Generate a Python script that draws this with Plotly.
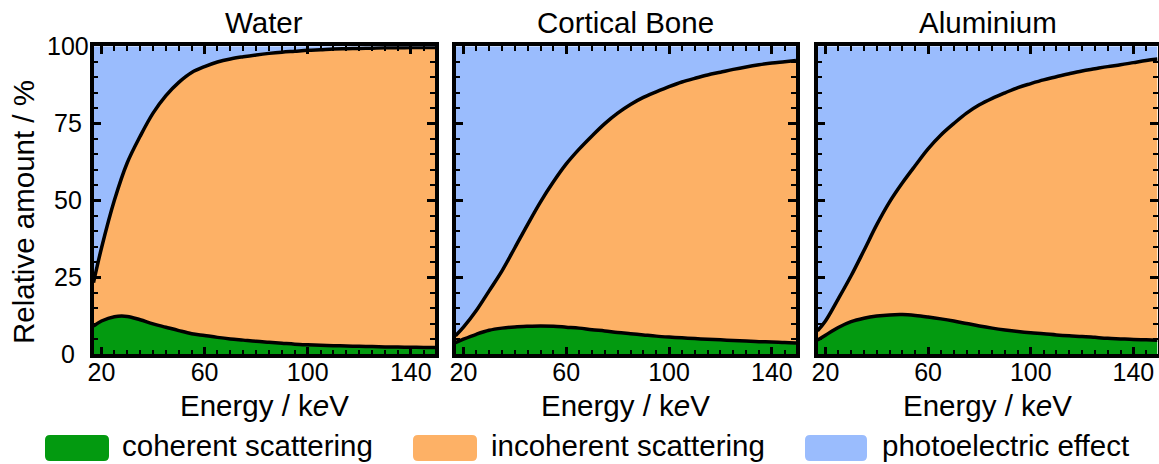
import numpy as np
import plotly.graph_objects as go

# Photon energy grid (keV)
energy_kev = [16.9, 20, 25, 30, 35, 40, 45, 50, 55, 60, 65, 70, 75, 80, 85, 90,
              95, 100, 105, 110, 115, 120, 125, 130, 135, 140, 145, 149.4]

# Relative contribution (%) of each interaction to total attenuation
water_coherent = [9.2, 10.8, 12.2, 12.3, 11.2, 9.9, 8.8, 7.7, 6.7, 6.1, 5.5, 5.0, 4.6, 4.2,
                  3.9, 3.6, 3.3, 3.1, 2.95, 2.8, 2.7, 2.6, 2.5, 2.4, 2.35, 2.3, 2.2, 2.2]
water_photoelectric = [76.7, 65.5, 50.0, 37.8, 29.2, 21.7, 16.0, 11.7, 8.5, 6.6, 5.1, 4.1, 3.4, 2.8,
                       2.3, 1.9, 1.6, 1.3, 1.1, 0.9, 0.8, 0.7, 0.6, 0.5, 0.5, 0.4, 0.4, 0.4]

bone_coherent = [3.8, 4.9, 6.5, 7.8, 8.5, 8.9, 9.1, 9.2, 9.1, 8.8, 8.5, 8.0, 7.6, 7.1,
                 6.7, 6.3, 5.9, 5.6, 5.35, 5.1, 4.9, 4.7, 4.5, 4.3, 4.1, 4.0, 3.8, 3.7]
bone_photoelectric = [94.0, 91.2, 85.8, 79.4, 72.9, 65.4, 57.8, 50.5, 44.0, 38.2, 33.4, 29.1, 25.1, 21.7,
                      18.9, 16.6, 14.8, 13.1, 11.6, 10.4, 9.3, 8.4, 7.5, 6.7, 6.0, 5.4, 5.0, 4.6]

aluminium_coherent = [4.6, 6.2, 8.7, 10.6, 11.7, 12.4, 12.8, 12.9, 12.6, 12.1, 11.5, 10.8, 10.0, 9.2,
                      8.5, 7.9, 7.4, 7.0, 6.7, 6.3, 6.0, 5.8, 5.5, 5.2, 5.0, 4.8, 4.7, 4.6]
aluminium_photoelectric = [92.4, 89.2, 82.0, 74.5, 66.3, 57.9, 50.5, 44.3, 38.7, 33.3, 28.8, 25.1, 21.7, 19.0,
                           16.9, 15.1, 13.4, 12.1, 10.9, 9.9, 8.9, 8.0, 7.3, 6.6, 6.0, 5.3, 4.6, 4.1]

materials = ["Water", "Cortical Bone", "Aluminium"]
coherent_sets = [water_coherent, bone_coherent, aluminium_coherent]
photo_sets = [water_photoelectric, bone_photoelectric, aluminium_photoelectric]

legend_labels = ["coherent scattering", "incoherent scattering", "photoelectric effect"]
x_tick_values = [20, 60, 100, 140]
y_tick_values = [0, 25, 50, 75, 100]
x_title = "Energy / k<i>e</i>V"
y_title = "Relative amount / %"

GREEN = "#039A10"
ORANGE = "#FDB166"
BLUE = "#9ABCFD"
FONT = "Liberation Sans, Arial, Helvetica, sans-serif"
TITLE_SIZE = 29.5
TICK_SIZE = 25

W, H = 1159, 464
# panel extents in pixels
panel_px = [(93.5, 435.0), (455.5, 796.0), (817.5, 1157.5)]
y_top_px, y_bot_px = 46.3, 354.3


def px_x(v):
    return v / W


def px_y(v):
    return 1 - v / H


fig = go.Figure()

for i, (name, coh, pho) in enumerate(zip(materials, coherent_sets, photo_sets)):
    coh = np.array(coh, dtype=float)
    pho = np.array(pho, dtype=float)
    incoh = 100.0 - coh - pho
    xa = "x" if i == 0 else f"x{i + 1}"
    ya = "y" if i == 0 else f"y{i + 1}"
    c1 = coh
    c2 = coh + incoh
    c3 = coh + incoh + pho
    fig.add_trace(go.Scatter(x=energy_kev, y=c1, xaxis=xa, yaxis=ya, mode="lines",
                             line=dict(color="black", width=3.5, shape="spline"),
                             fill="tozeroy", fillcolor=GREEN, showlegend=False,
                             hoverinfo="skip"))
    fig.add_trace(go.Scatter(x=energy_kev, y=c2, xaxis=xa, yaxis=ya, mode="lines",
                             line=dict(color="black", width=3.5, shape="spline"),
                             fill="tonexty", fillcolor=ORANGE, showlegend=False,
                             hoverinfo="skip"))
    fig.add_trace(go.Scatter(x=energy_kev, y=c3, xaxis=xa, yaxis=ya, mode="lines",
                             line=dict(color=BLUE, width=0, shape="spline"),
                             fill="tonexty", fillcolor=BLUE, showlegend=False,
                             hoverinfo="skip"))

axis_common = dict(showline=True, linewidth=3.5, linecolor="black", mirror="ticks",
                   ticks="inside", ticklen=8, tickwidth=2.5, tickcolor="black",
                   showgrid=False, zeroline=False, automargin=False,
                   tickfont=dict(family=FONT, size=TICK_SIZE, color="black"))

layout = dict(width=W, height=H, margin=dict(l=0, r=0, t=0, b=0, autoexpand=False),
              paper_bgcolor="white", plot_bgcolor="white", showlegend=False,
              font=dict(family=FONT, color="black"))

y_tick_text = []
for v in y_tick_values:
    s = str(v)
    pad = {1: "\u2007", 2: "\u2008", 3: ""}[len(s)]
    y_tick_text.append(s + pad)

for i in range(3):
    xk = "xaxis" if i == 0 else f"xaxis{i + 1}"
    yk = "yaxis" if i == 0 else f"yaxis{i + 1}"
    x0, x1 = panel_px[i]
    layout[xk] = dict(axis_common, domain=[px_x(x0), px_x(x1)], range=[16.9, 149.4],
                      tickvals=x_tick_values, ticklabelstandoff=-7,
                      anchor="y" if i == 0 else f"y{i + 1}",
                      minor=dict(dtick=5, tick0=0, ticks="inside", ticklen=5,
                                 tickwidth=2, tickcolor="black", showgrid=False))
    layout[yk] = dict(axis_common, domain=[px_y(y_bot_px), px_y(y_top_px)], range=[0, 100],
                      tickvals=y_tick_values, ticktext=y_tick_text,
                      showticklabels=(i == 0), ticklabelstandoff=-4,
                      anchor="x" if i == 0 else f"x{i + 1}",
                      minor=dict(dtick=5, tick0=0, ticks="inside", ticklen=5,
                                 tickwidth=2, tickcolor="black", showgrid=False))

annotations = []
for i, name in enumerate(materials):
    x0, x1 = panel_px[i]
    cx = (x0 + x1) / 2
    annotations.append(dict(text=name, x=px_x(cx), y=px_y(23), xref="paper", yref="paper",
                            xanchor="center", yanchor="middle", showarrow=False,
                            font=dict(family=FONT, size=TITLE_SIZE, color="black")))
    annotations.append(dict(text=x_title, x=px_x(cx), y=px_y(405), xref="paper", yref="paper",
                            xanchor="center", yanchor="middle", showarrow=False,
                            font=dict(family=FONT, size=TITLE_SIZE, color="black")))

annotations.append(dict(text=y_title, x=px_x(23), y=px_y(212), xref="paper", yref="paper",
                        xanchor="center", yanchor="middle", showarrow=False, textangle=-90,
                        font=dict(family=FONT, size=TITLE_SIZE, color="black")))

# legend: rounded swatches plus labels
swatch_px = [(45, 109), (413, 477), (805, 867)]
text_left_px = [120, 489, 880]
swatch_colors = [GREEN, ORANGE, BLUE]
sw_top, sw_bot = 435, 461
shapes = []


def rounded_rect(xa, xb, ya, yb, r=5):
    rx, ry = r / W, r / H
    X0, X1 = px_x(xa), px_x(xb)
    Yt, Yb = px_y(ya), px_y(yb)
    return (f"M {X0 + rx},{Yt} L {X1 - rx},{Yt} Q {X1},{Yt} {X1},{Yt - ry} "
            f"L {X1},{Yb + ry} Q {X1},{Yb} {X1 - rx},{Yb} "
            f"L {X0 + rx},{Yb} Q {X0},{Yb} {X0},{Yb + ry} "
            f"L {X0},{Yt - ry} Q {X0},{Yt} {X0 + rx},{Yt} Z")


for (xa, xb), tl, col, lab in zip(swatch_px, text_left_px, swatch_colors, legend_labels):
    shapes.append(dict(type="path", xref="paper", yref="paper",
                       path=rounded_rect(xa, xb, sw_top, sw_bot),
                       fillcolor=col, line=dict(width=0)))
    annotations.append(dict(text=lab, x=px_x(tl), y=px_y(445), xref="paper", yref="paper",
                            xanchor="left", yanchor="middle", showarrow=False,
                            font=dict(family=FONT, size=TITLE_SIZE, color="black")))

layout["annotations"] = annotations
layout["shapes"] = shapes
fig.update_layout(**layout)

fig.write_html("out.html")
